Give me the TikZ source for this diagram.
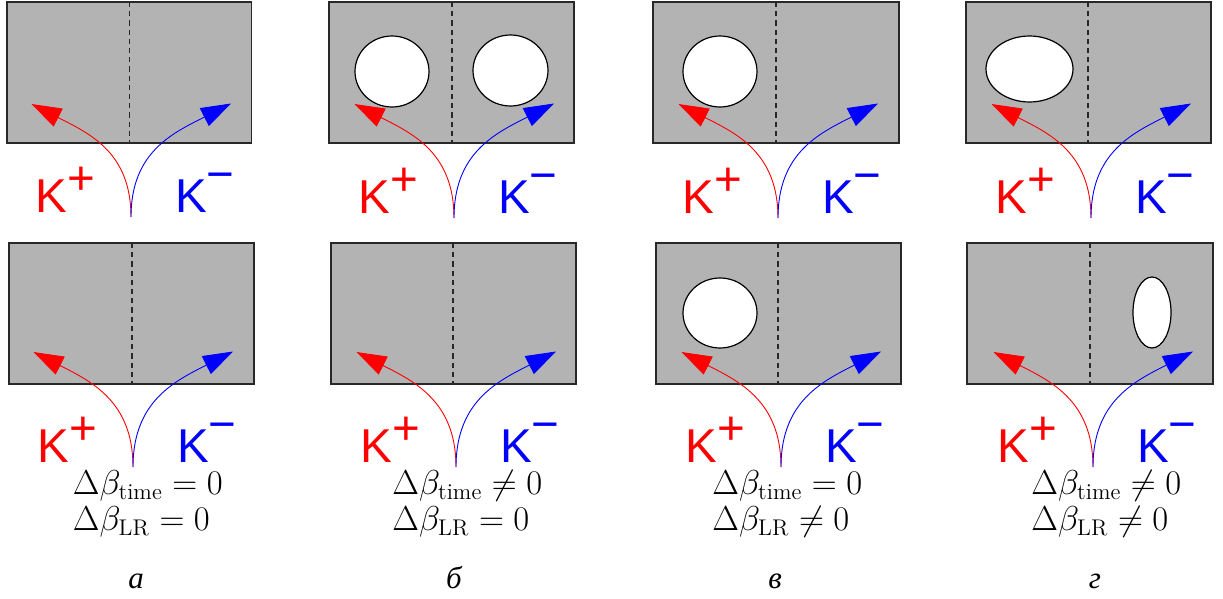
\documentclass[tikz,border=0pt]{standalone}
\usepackage{fontspec}
\usetikzlibrary{arrows.meta}
\newfontfamily\ksans{Liberation Sans}
\newfontfamily\cyrserif{Liberation Serif}
\definecolor{panelgray}{RGB}{179,179,179}
\definecolor{edgegray}{RGB}{40,40,40}
\tikzset{
  panelbox/.style={fill=panelgray, draw=edgegray, line width=0.85pt},
  divider/.style={draw=edgegray, line width=0.6pt, dash pattern=on 2.6pt off 2pt},
  hole/.style={fill=white, draw=black, line width=0.6pt},
  kplus/.style={draw=red, line width=0.45pt, -{Triangle[length=15pt,width=10pt]}},
  kminus/.style={draw=blue, line width=0.45pt, -{Triangle[length=15pt,width=10pt]}},
  klabel/.style={anchor=base, inner sep=0pt, font=\ksans\fontsize{23.75}{28}\selectfont},
  cond/.style={anchor=base west, inner sep=0pt, font=\fontsize{16.2}{19}\selectfont},
  caption/.style={anchor=base, inner sep=0pt, font=\cyrserif\itshape\fontsize{15.5}{18}\selectfont}
}
% #1 id, #2 L, #3 R, #4 T, #5 B, #6 dash x, #7 origin x, #8 origin y, #9 tip y
\newcommand{\kpanel}[9]{%
  \draw[panelbox] (#2,#4) rectangle (#3,#5);
  \draw[divider] (#6,#4) -- (#6,#5);
  \coordinate (o#1) at (#7,#8);
  \coordinate (tp#1) at (#7-99.5,#9);
  \coordinate (tm#1) at (#7+100,#9-0.5);
  \draw[kplus] (o#1) to[out=90,in=-27,looseness=1.1] (tp#1);
  \draw[kminus] (o#1) to[out=90,in=207,looseness=1.1] (tm#1);
  \node[klabel,text=red] (kp#1) at (#7-65.5,#8-4.5) {K\raisebox{9pt}{+}};
  \node[klabel,text=blue] (km#1) at (#7+74,#8-4.5) {K\raisebox{11pt}{−}};
}
\begin{document}
\begin{tikzpicture}[x=0.5pt,y=-0.5pt]
\useasboundingbox (0,0) rectangle (1223,599);
% top row
\kpanel{A1}{7}{251.5}{2}{143}{129.5}{131}{217}{104}
\kpanel{B1}{329}{574}{2}{143}{452}{454}{218}{104}
\kpanel{C1}{653}{899}{2}{143}{776}{778}{218}{104}
\kpanel{D1}{966}{1211}{2}{143}{1088}{1091}{218}{104}
% bottom row
\kpanel{A2}{9}{254}{243}{384}{132}{133}{467}{352}
\kpanel{B2}{331}{576}{243}{384}{453}{456}{467}{352}
\kpanel{C2}{656}{901}{243}{384}{778}{781}{467}{352}
\kpanel{D2}{967}{1213}{243}{384}{1090}{1093}{467}{352}
% holes
\draw[hole] (392,71.5) ellipse [x radius=37, y radius=35.5];
\draw[hole] (510.5,70.5) ellipse [x radius=37.5, y radius=35.5];
\draw[hole] (720,71.5) ellipse [x radius=37, y radius=35.5];
\draw[hole] (1029.5,69) ellipse [x radius=43.5, y radius=33];
\draw[hole] (720,313) ellipse [x radius=37, y radius=35];
\draw[hole] (1152,312.5) ellipse [x radius=19, y radius=35.5];
% conditions
\node[cond] (ta) at (72.5,494.3) {$\Delta\beta_{\mathrm{time}} = 0$};
\node[cond] (la) at (72.5,530) {$\Delta\beta_{\mathrm{LR}} = 0$};
\node[cond] (tb) at (392,494.3) {$\Delta\beta_{\mathrm{time}} \neq 0$};
\node[cond] (lb) at (392,530) {$\Delta\beta_{\mathrm{LR}} = 0$};
\node[cond] (tc) at (712,494.3) {$\Delta\beta_{\mathrm{time}} = 0$};
\node[cond] (lc) at (712,530) {$\Delta\beta_{\mathrm{LR}} \neq 0$};
\node[cond] (td) at (1031,494.3) {$\Delta\beta_{\mathrm{time}} \neq 0$};
\node[cond] (ld) at (1031,530) {$\Delta\beta_{\mathrm{LR}} \neq 0$};
% captions
\node[caption] (ca) at (136,588) {а};
\node[caption] (cb) at (454,588) {б};
\node[caption] (cc) at (775,588) {в};
\node[caption] (cd) at (1095,588) {г};
\end{tikzpicture}
\end{document}
